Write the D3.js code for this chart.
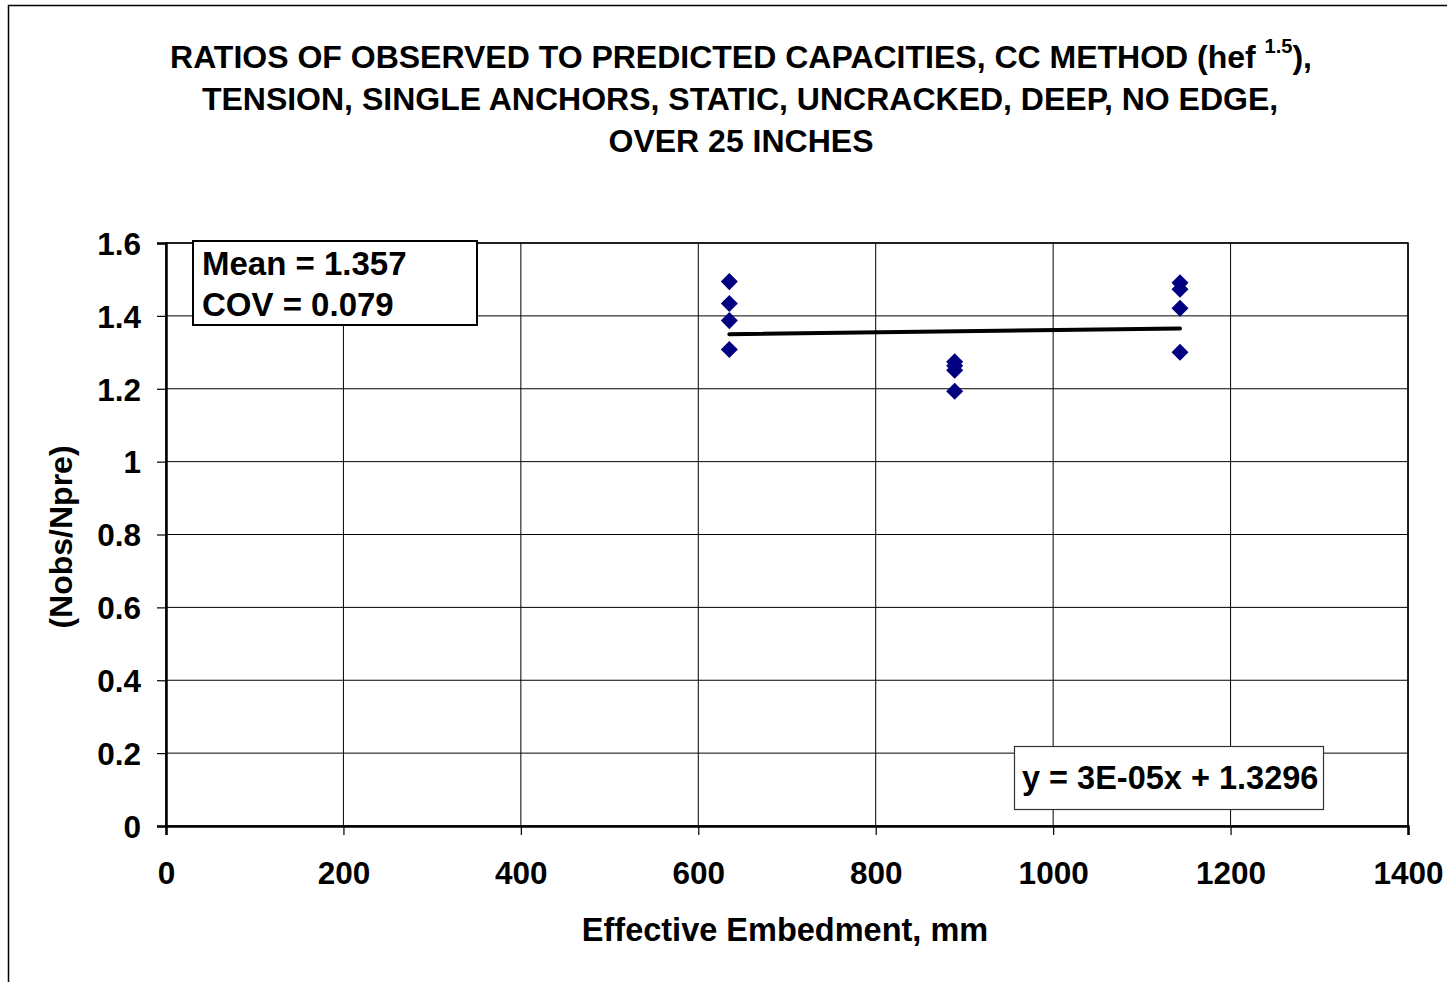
<!DOCTYPE html>
<html>
<head>
<meta charset="utf-8">
<script src="https://cdn.jsdelivr.net/npm/d3@7"></script>
<style>
  body { margin: 0; background: #fff; }
  svg { display: block; font-family: Arial, "Liberation Sans", sans-serif; font-weight: bold; }
</style>
</head>
<body>
<svg id="chart" width="1447" height="982"></svg>
<script>
const width = 1447;
const height = 982;

// Effective embedment (mm) and observed/predicted ratios
const embedment = [635, 635, 635, 635, 889, 889, 889, 889, 1143, 1143, 1143, 1143];
const ratios = [1.494, 1.434, 1.387, 1.308, 1.274, 1.263, 1.251, 1.193, 1.491, 1.473, 1.421, 1.300];
const xTicks = [0, 200, 400, 600, 800, 1000, 1200, 1400];
const yTicks = [0, 0.2, 0.4, 0.6, 0.8, 1, 1.2, 1.4, 1.6];
const titleLines = [
  "RATIOS OF OBSERVED TO PREDICTED CAPACITIES, CC METHOD (hef ",
  "TENSION, SINGLE ANCHORS, STATIC, UNCRACKED, DEEP, NO EDGE,",
  "OVER 25 INCHES"
];
const statLines = ["Mean = 1.357", "COV = 0.079"];
const trendLabel = "y = 3E-05x + 1.3296";

const margin = { left: 166, right: 1408, top: 243, bottom: 826 };

const svg = d3.select("#chart");

// outer chart frame
svg.append("rect")
    .attr("x", 8.5).attr("y", 5.5)
    .attr("width", 1460).attr("height", 1000)
    .attr("fill", "none").attr("stroke", "#000").attr("stroke-width", 1.5);

const x = d3.scaleLinear().domain([0, 1400]).range([margin.left, margin.right]);
const y = d3.scaleLinear().domain([0, 1.6]).range([margin.bottom, margin.top]);

// gridlines
svg.append("g").selectAll("line")
  .data(xTicks.slice(1))
  .join("line")
    .attr("x1", d => x(d)).attr("x2", d => x(d))
    .attr("y1", margin.top).attr("y2", margin.bottom)
    .attr("stroke", "#000").attr("stroke-width", 1);

svg.append("g").selectAll("line")
  .data(yTicks.slice(1))
  .join("line")
    .attr("x1", margin.left).attr("x2", margin.right)
    .attr("y1", d => y(d)).attr("y2", d => y(d))
    .attr("stroke", "#000").attr("stroke-width", 1);

// plot frame
svg.append("rect")
    .attr("x", margin.left).attr("y", margin.top)
    .attr("width", margin.right - margin.left).attr("height", margin.bottom - margin.top)
    .attr("fill", "none").attr("stroke", "#000").attr("stroke-width", 1.5);

// axes
const xAxis = svg.append("g")
    .attr("transform", `translate(0,${margin.bottom})`)
    .call(d3.axisBottom(x).tickValues(xTicks).tickSize(9).tickPadding(27).tickFormat(d3.format("d")));
const yAxis = svg.append("g")
    .attr("transform", `translate(${margin.left},0)`)
    .call(d3.axisLeft(y).tickValues(yTicks).tickSize(9).tickPadding(16).tickFormat(d => String(d)));

[xAxis, yAxis].forEach(g => {
  g.select(".domain").attr("stroke", "#000").attr("stroke-width", 2.5);
  g.selectAll(".tick line").attr("stroke", "#000").attr("stroke-width", 1.2);
  g.selectAll(".tick text")
    .attr("fill", "#000")
    .style("font-size", "31.5px")
    .style("font-family", "Arial, 'Liberation Sans', sans-serif")
    .style("font-weight", "bold");
});
yAxis.selectAll(".tick text").attr("dy", "0.36em");

// trend line from least squares
const mx = d3.mean(embedment), my = d3.mean(ratios);
const slope = d3.sum(embedment, (v, i) => (v - mx) * (ratios[i] - my)) / d3.sum(embedment, v => (v - mx) ** 2);
const intercept = my - slope * mx;
const [xmin, xmax] = d3.extent(embedment);
svg.append("line")
    .attr("x1", x(xmin)).attr("y1", y(slope * xmin + intercept))
    .attr("x2", x(xmax)).attr("y2", y(slope * xmax + intercept))
    .attr("stroke", "#000").attr("stroke-width", 4).attr("stroke-linecap", "round");

// data points as diamonds
const diamond = d3.symbol().type(d3.symbolSquare).size(145);
svg.append("g").selectAll("path")
  .data(embedment.map((v, i) => [v, ratios[i]]))
  .join("path")
    .attr("d", diamond)
    .attr("transform", d => `translate(${x(d[0])},${y(d[1])}) rotate(45)`)
    .attr("fill", "#000080");

// title
const title = svg.append("text")
    .attr("text-anchor", "middle")
    .style("font-size", "32px");
const titleX = [741, 740, 741];
titleLines.forEach((t, i) => {
  const ts = title.append("tspan").attr("x", titleX[i]).attr("y", 68 + i * 42).text(t);
  if (i === 0) {
    ts.append("tspan").attr("dy", -15).style("font-size", "20px").text("1.5");
    ts.append("tspan").attr("dy", 15).text("),");
  }
});

// axis titles
svg.append("text")
    .attr("x", 785).attr("y", 941)
    .attr("text-anchor", "middle")
    .style("font-size", "32.5px")
    .text("Effective Embedment, mm");

svg.append("text")
    .attr("transform", "translate(72,537) rotate(-90)")
    .attr("text-anchor", "middle")
    .style("font-size", "32px")
    .text("(Nobs/Npre)");

// mean / COV box
svg.append("rect")
    .attr("x", 193).attr("y", 241).attr("width", 284).attr("height", 84)
    .attr("fill", "#fff").attr("stroke", "#000").attr("stroke-width", 2);
statLines.forEach((t, i) => {
  svg.append("text")
      .attr("x", 202).attr("y", 275 + i * 41)
      .style("font-size", "33px")
      .text(t);
});

// trend equation box
svg.append("rect")
    .attr("x", 1014.5).attr("y", 746.5).attr("width", 309).attr("height", 63)
    .attr("fill", "#fff").attr("stroke", "#333").attr("stroke-width", 1.2);
svg.append("text")
    .attr("x", 1022).attr("y", 789)
    .style("font-size", "32.5px")
    .text(trendLabel);
</script>
</body>
</html>
